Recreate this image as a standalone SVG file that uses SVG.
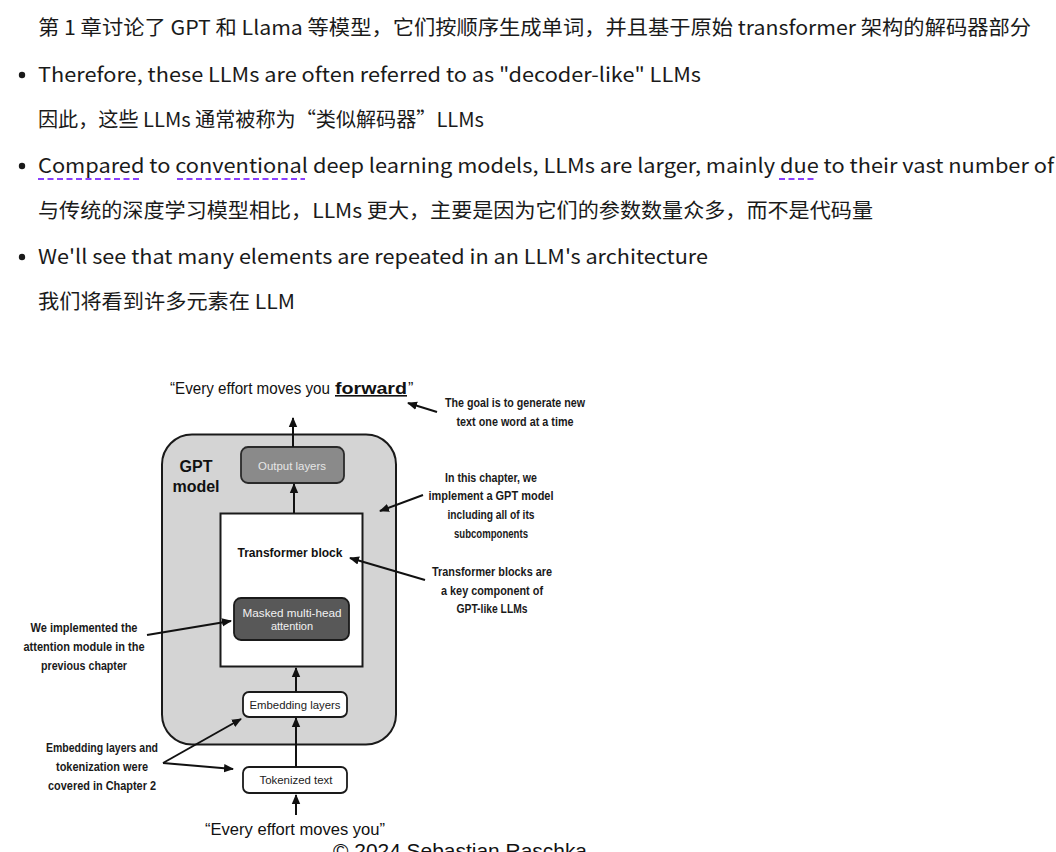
<svg xmlns="http://www.w3.org/2000/svg" width="1056" height="852" viewBox="0 0 1056 852">
<style>
.pg{font-family:"Noto Sans CJK SC","Noto Sans",sans-serif;font-size:20px;fill:#1a1a1a}
.ann{font-family:"Liberation Sans",Arial,sans-serif;font-size:12.5px;font-weight:bold;fill:#1a1a1a;text-anchor:middle}
.lbl{font-family:"Liberation Sans",Arial,sans-serif;font-size:11px;text-anchor:middle}
.q{font-family:"Liberation Sans",Arial,sans-serif;font-size:16px;fill:#111}
.conn line{stroke:#111;stroke-width:2;marker-end:url(#ah)}
.ul{stroke:#8a3ffc;stroke-width:2;stroke-dasharray:6 3.5}
</style>
<defs>
<marker id="ah" markerUnits="userSpaceOnUse" markerWidth="10" markerHeight="10" viewBox="0 0 10 10" refX="9" refY="5" orient="auto">
<path d="M0,0.8 L10,5 L0,9.2 z" fill="#111"/>
</marker>
</defs>
<rect width="1056" height="852" fill="#ffffff"/>

<g id="page-text">
<text class="pg" x="38" y="35" textLength="993" lengthAdjust="spacingAndGlyphs">第 1 章讨论了 GPT 和 Llama 等模型，它们按顺序生成单词，并且基于原始 transformer 架构的解码器部分</text>
<circle cx="22" cy="75" r="3.2" fill="#1a1a1a"/>
<text class="pg" x="38" y="82" textLength="663" lengthAdjust="spacingAndGlyphs">Therefore, these LLMs are often referred to as "decoder-like" LLMs</text>
<text class="pg" x="38" y="127" textLength="446" lengthAdjust="spacingAndGlyphs">因此，这些 LLMs 通常被称为“类似解码器”LLMs</text>
<circle cx="22" cy="166" r="3.2" fill="#1a1a1a"/>
<text class="pg" x="38" y="173" textLength="1016" lengthAdjust="spacingAndGlyphs">Compared to conventional deep learning models, LLMs are larger, mainly due to their vast number of</text>
<line class="ul" x1="38" y1="179" x2="142" y2="179"/>
<line class="ul" x1="177" y1="179" x2="305" y2="179"/>
<line class="ul" x1="779" y1="179" x2="817" y2="179"/>
<text class="pg" x="38" y="218" textLength="835" lengthAdjust="spacingAndGlyphs">与传统的深度学习模型相比，LLMs 更大，主要是因为它们的参数数量众多，而不是代码量</text>
<circle cx="22" cy="257" r="3.2" fill="#1a1a1a"/>
<text class="pg" x="38" y="264" textLength="670" lengthAdjust="spacingAndGlyphs">We'll see that many elements are repeated in an LLM's architecture</text>
<text class="pg" x="38" y="309" textLength="257" lengthAdjust="spacingAndGlyphs">我们将看到许多元素在 LLM</text>
</g>

<g id="gpt-model">
<rect x="162" y="434.5" width="234" height="310" rx="30" fill="#d4d4d4" stroke="#1a1a1a" stroke-width="2"/>
<text x="196" y="472" font-family="Liberation Sans,Arial,sans-serif" font-size="16" font-weight="bold" fill="#111" text-anchor="middle">GPT</text>
<text x="196" y="492" font-family="Liberation Sans,Arial,sans-serif" font-size="16" font-weight="bold" fill="#111" text-anchor="middle">model</text>
</g>

<g id="output-layers">
<rect x="241" y="447" width="103" height="36" rx="7" fill="#8a8a8a" stroke="#2a2a2a" stroke-width="1.8"/>
<text class="lbl" x="292" y="469.5" fill="#e6e6e6" textLength="68" lengthAdjust="spacingAndGlyphs">Output layers</text>
</g>

<g id="transformer-block">
<rect x="220.5" y="513.5" width="142" height="153" fill="#ffffff" stroke="#1a1a1a" stroke-width="2"/>
<text x="290" y="557" font-family="Liberation Sans,Arial,sans-serif" font-size="12" font-weight="bold" fill="#111" text-anchor="middle" textLength="105" lengthAdjust="spacingAndGlyphs">Transformer block</text>
</g>

<g id="masked-mha">
<rect x="234" y="598" width="115" height="42" rx="7" fill="#585858" stroke="#1a1a1a" stroke-width="1.8"/>
<text class="lbl" x="292" y="617" fill="#f2f2f2" textLength="99" lengthAdjust="spacingAndGlyphs">Masked multi-head</text>
<text class="lbl" x="292" y="630" fill="#f2f2f2">attention</text>
</g>

<g id="embedding-layers">
<rect x="243" y="692" width="104" height="25" rx="6" fill="#ffffff" stroke="#1a1a1a" stroke-width="1.8"/>
<text class="lbl" x="295" y="708.5" fill="#222" textLength="91" lengthAdjust="spacingAndGlyphs">Embedding layers</text>
</g>

<g id="tokenized-text">
<rect x="243" y="767" width="104" height="26" rx="6" fill="#ffffff" stroke="#1a1a1a" stroke-width="1.8"/>
<text class="lbl" x="296" y="784" fill="#222" textLength="73" lengthAdjust="spacingAndGlyphs">Tokenized text</text>
</g>

<g id="output-sentence">
<text class="q" x="170" y="394" textLength="160" lengthAdjust="spacingAndGlyphs">“Every effort moves you</text>
<text class="q" x="335" y="394" font-weight="bold" text-decoration="underline" textLength="72" lengthAdjust="spacingAndGlyphs">forward</text>
<text class="q" x="408" y="394">”</text>
</g>

<g id="input-sentence">
<text class="q" x="205" y="835" textLength="180" lengthAdjust="spacingAndGlyphs">“Every effort moves you”</text>
</g>

<g id="copyright">
<text x="333" y="858" font-family="Liberation Sans,Arial,sans-serif" font-size="21" fill="#111" textLength="254" lengthAdjust="spacingAndGlyphs">© 2024 Sebastian Raschka</text>
</g>

<g id="note-goal">
<text class="ann" x="515" y="407" textLength="140" lengthAdjust="spacingAndGlyphs">The goal is to generate new</text>
<text class="ann" x="515" y="426" textLength="117" lengthAdjust="spacingAndGlyphs">text one word at a time</text>
</g>

<g id="note-chapter">
<text class="ann" x="491" y="482" textLength="92" lengthAdjust="spacingAndGlyphs">In this chapter, we</text>
<text class="ann" x="491" y="500" textLength="125" lengthAdjust="spacingAndGlyphs">implement a GPT model</text>
<text class="ann" x="491" y="519" textLength="87" lengthAdjust="spacingAndGlyphs">including all of its</text>
<text class="ann" x="491" y="538" textLength="74" lengthAdjust="spacingAndGlyphs">subcomponents</text>
</g>

<g id="note-transformer">
<text class="ann" x="492" y="576" textLength="120" lengthAdjust="spacingAndGlyphs">Transformer blocks are</text>
<text class="ann" x="492" y="595" textLength="102" lengthAdjust="spacingAndGlyphs">a key component of</text>
<text class="ann" x="492" y="613" textLength="71" lengthAdjust="spacingAndGlyphs">GPT-like LLMs</text>
</g>

<g id="note-attention">
<text class="ann" x="84" y="632" textLength="107" lengthAdjust="spacingAndGlyphs">We implemented the</text>
<text class="ann" x="84" y="651" textLength="121" lengthAdjust="spacingAndGlyphs">attention module in the</text>
<text class="ann" x="84" y="670" textLength="86" lengthAdjust="spacingAndGlyphs">previous chapter</text>
</g>

<g id="note-embedding">
<text class="ann" x="102" y="752" textLength="112" lengthAdjust="spacingAndGlyphs">Embedding layers and</text>
<text class="ann" x="102" y="771" textLength="92" lengthAdjust="spacingAndGlyphs">tokenization were</text>
<text class="ann" x="102" y="790" textLength="108" lengthAdjust="spacingAndGlyphs">covered in Chapter 2</text>
</g>

<g id="connectors" class="conn">
<line x1="293" y1="447" x2="293" y2="418"/>
<line x1="294" y1="513" x2="294" y2="484"/>
<line x1="296" y1="692" x2="296" y2="668"/>
<line x1="296" y1="767" x2="296" y2="718"/>
<line x1="296" y1="815" x2="296" y2="795"/>
<line x1="437" y1="412" x2="408" y2="403"/>
<line x1="423" y1="495" x2="380" y2="511"/>
<line x1="425" y1="580" x2="350" y2="558"/>
<line x1="147" y1="635" x2="231" y2="621"/>
<line x1="163" y1="763" x2="241" y2="719"/>
<line x1="163" y1="763" x2="233" y2="769"/>
</g>
</svg>
